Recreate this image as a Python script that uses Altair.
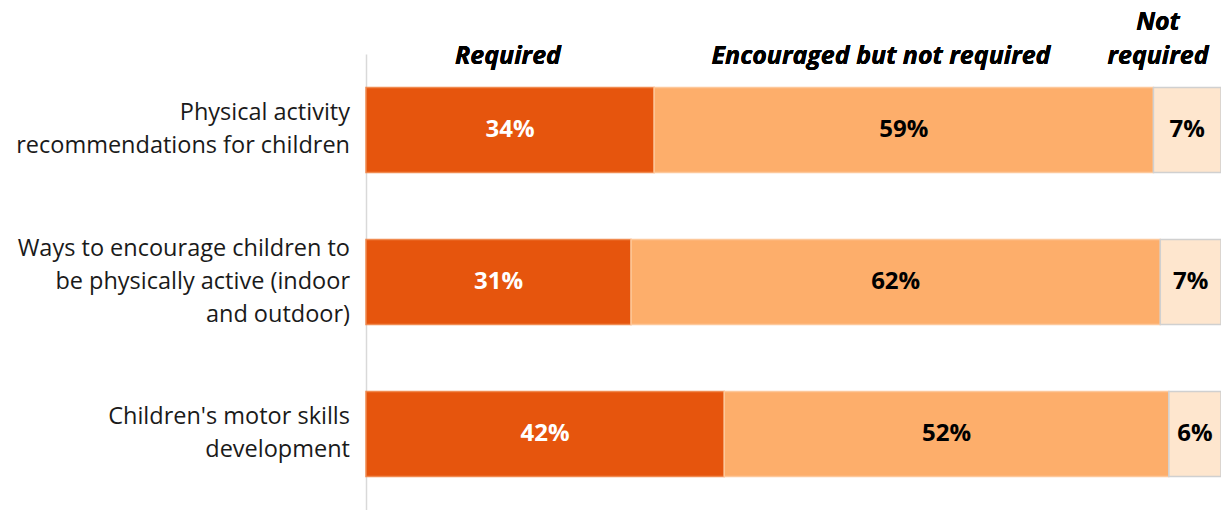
import altair as alt
import pandas as pd

categories = [
    "Physical activity\nrecommendations for children",
    "Ways to encourage children to\nbe physically active (indoor\nand outdoor)",
    "Children's motor skills\ndevelopment",
]
responses = ["Required", "Encouraged but not required", "Not required"]
values = [
    [33.7, 58.4, 7.9],
    [31.0, 61.9, 7.1],
    [41.9, 52.0, 6.1],
]
labels = [
    ["34%", "59%", "7%"],
    ["31%", "62%", "7%"],
    ["42%", "52%", "6%"],
]
colors = ["#E6550D", "#FDAE6B", "#FEE6CE"]
text_colors = ["white", "black", "black"]

rows = []
for i, c in enumerate(categories):
    for j, r in enumerate(responses):
        rows.append({"cat": c, "resp": r, "order": j, "value": values[i][j],
                     "label": labels[i][j], "tcol": text_colors[j]})
df = pd.DataFrame(rows)

LINE_H = 33
HALF_BAND = 42.5
line_rows = []
for c in categories:
    parts = c.split("\n")
    n = len(parts)
    for k, p in enumerate(parts):
        line_rows.append({"cat": c, "line": p,
                          "off": HALF_BAND + (k - (n - 1) / 2) * LINE_H})
lines_df = pd.DataFrame(line_rows)
cat_df = pd.DataFrame({"cat": categories})

FONT = "Open Sans"

base = alt.Chart(df).transform_stack(
    stack="value", groupby=["cat"], as_=["x0", "x1"],
    sort=[alt.SortField("order", order="ascending")]
).transform_calculate(mid="(datum.x0 + datum.x1) / 2")

yenc = alt.Y("cat:N", sort=categories,
             scale=alt.Scale(paddingInner=0.44, paddingOuter=0.22),
             axis=alt.Axis(title=None, labels=False, ticks=False, domain=True,
                           domainColor="#d9d9d9", domainWidth=1.5, grid=False))

xscale = alt.Scale(domain=[0, 100], nice=False, zero=True)

bars = base.mark_bar(strokeWidth=1.5).encode(
    x=alt.X("x0:Q", scale=xscale, axis=None),
    x2="x1:Q",
    y=yenc,
    color=alt.Color("resp:N", scale=alt.Scale(domain=responses, range=colors), legend=None),
    stroke=alt.Stroke("resp:N", scale=alt.Scale(domain=responses,
                      range=["#F08A50", "#FDC89A", "#d0d0d0"]), legend=None),
)

seg_text = base.mark_text(font=FONT, fontSize=24, fontWeight="bold").encode(
    x=alt.X("mid:Q", scale=xscale, axis=None),
    y=alt.Y("cat:N", sort=categories),
    text="label:N",
    color=alt.Color("tcol:N", scale=None),
)

cat_text = alt.Chart(lines_df).mark_text(
    font=FONT, fontSize=23.5, align="right", baseline="middle", color="#1a1a1a"
).encode(
    x=alt.value(-16),
    y=alt.Y("cat:N", sort=categories),
    yOffset=alt.YOffset("off:Q", scale=None),
    text="line:N",
)

hdr_style = dict(font=FONT, fontSize=25, fontWeight="bold", fontStyle="italic",
                 baseline="middle", color="black")
h1 = alt.Chart(cat_df).mark_text(text="Required", **hdr_style).encode(
    x=alt.value(142), y=alt.value(2))
h2 = alt.Chart(cat_df).mark_text(text="Encouraged but not required", **hdr_style).encode(
    x=alt.value(515), y=alt.value(2))
h3 = alt.Chart(cat_df).mark_text(text="Not", **hdr_style).encode(
    x=alt.value(792), y=alt.value(-32))
h4 = alt.Chart(cat_df).mark_text(text="required", **hdr_style).encode(
    x=alt.value(792), y=alt.value(2))

chart = alt.layer(bars, seg_text, cat_text, h1, h2, h3, h4).properties(
    width=855, height=456,
    padding={"left": 366, "top": 54, "right": 0, "bottom": 0},
    autosize=alt.AutoSizeParams(type="none"),
    view=alt.ViewBackground(stroke="transparent", strokeWidth=0),
).configure_view(stroke="transparent", strokeWidth=0).configure(background="white")

chart.save("out.html", embed_options={"renderer": "svg", "actions": False})
